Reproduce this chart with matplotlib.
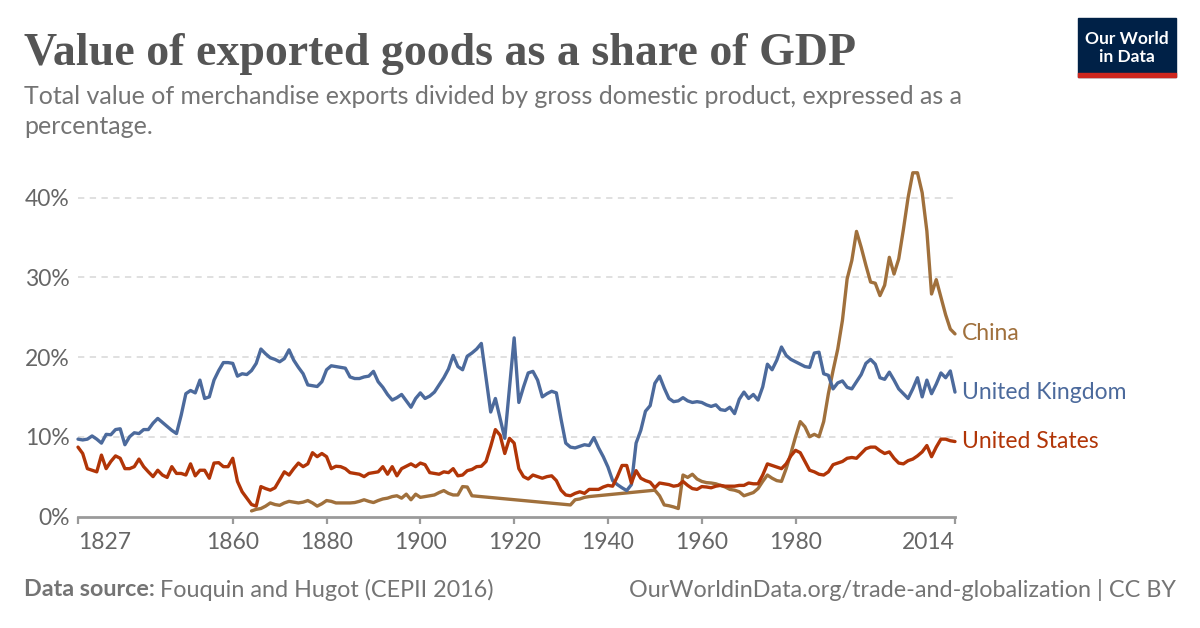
#!/usr/bin/env python3
"""Value of exported goods as a share of GDP (OWID-style line chart)."""
import matplotlib
matplotlib.use('Agg')
import matplotlib.pyplot as plt
from matplotlib.patches import Rectangle

# ---- data (% of GDP) ----
uk_years = list(range(1827, 2015))
uk_share = [
    9.7, 9.6, 9.7, 10.1, 9.7, 9.2, 10.3, 10.25, 10.9, 11.0,
    9.0, 10.0, 10.5, 10.4, 10.9, 10.9, 11.7, 12.3, 11.8, 11.3,
    10.8, 10.4, 12.7, 15.4, 15.8, 15.5, 17.1, 14.8, 15.0, 17.1,
    18.3, 19.3, 19.3, 19.2, 17.6, 17.9, 17.8, 18.3, 19.2, 21.0,
    20.4, 19.9, 19.7, 19.4, 19.8, 20.9, 19.6, 18.7, 17.9, 16.5,
    16.4, 16.3, 16.9, 18.4, 18.9, 18.8, 18.7, 18.6, 17.5, 17.3,
    17.3, 17.5, 17.6, 18.2, 16.9, 16.2, 15.3, 14.6, 14.9, 15.3,
    14.5, 13.7, 14.8, 15.5, 14.8, 15.1, 15.6, 16.5, 17.4, 18.5,
    20.2, 18.8, 18.4, 20.1, 20.5, 21.0, 21.7, 17.4, 13.1, 14.8,
    12.3, 9.8, 16.1, 22.4, 14.3, 16.25, 18.0, 18.2, 17.1, 15.0,
    15.4, 15.7, 15.5, 12.2, 9.2, 8.7, 8.6, 8.8, 9.0, 8.9,
    9.9, 8.6, 7.5, 6.2, 4.5, 4.0, 3.6, 3.25, 4.0, 9.2,
    10.8, 13.2, 13.9, 16.7, 17.6, 16.1, 14.8, 14.4, 14.5, 14.9,
    14.5, 14.3, 14.4, 14.3, 14.0, 13.8, 14.0, 13.4, 13.3, 13.7,
    12.9, 14.7, 15.6, 14.8, 15.3, 14.6, 16.25, 19.1, 18.4, 19.6,
    21.25, 20.2, 19.7, 19.4, 19.1, 18.8, 18.7, 20.5, 20.6, 17.9,
    17.7, 16.0, 16.75, 17.0, 16.2, 16.0, 16.9, 17.8, 19.2, 19.7,
    19.1, 17.4, 17.2, 18.1, 17.1, 16.0, 15.4, 14.8, 16.0, 17.4,
    15.0, 17.1, 15.4, 16.6, 18.0, 17.4, 18.25, 15.6,
]

us_years = list(range(1827, 2015))
us_share = [
    8.7, 7.9, 6.0, 5.8, 5.6, 7.7, 6.0, 6.9, 7.6, 7.3,
    6.0, 6.0, 6.25, 7.2, 6.25, 5.6, 5.0, 5.8, 5.2, 4.9,
    6.25, 5.4, 5.4, 5.2, 6.6, 5.1, 5.8, 5.8, 4.8, 6.7,
    6.75, 6.25, 6.25, 7.3, 4.4, 3.1, 2.3, 1.5, 1.3, 3.75,
    3.5, 3.3, 3.6, 4.6, 5.6, 5.2, 6.0, 6.7, 6.25, 6.6,
    8.0, 7.5, 7.9, 7.5, 6.0, 6.3, 6.25, 6.0, 5.5, 5.4,
    5.3, 5.0, 5.4, 5.5, 5.6, 6.25, 5.3, 6.25, 5.1, 6.0,
    6.3, 6.6, 6.25, 6.7, 6.5, 5.5, 5.4, 5.3, 5.6, 5.5,
    6.0, 5.1, 5.2, 5.75, 5.9, 6.25, 6.3, 6.9, 8.8, 10.9,
    10.2, 7.9, 9.8, 9.2, 6.0, 5.0, 4.7, 5.2, 5.0, 4.8,
    5.0, 5.1, 4.5, 3.3, 2.7, 2.6, 2.9, 3.1, 2.9, 3.4,
    3.4, 3.4, 3.7, 3.9, 3.8, 5.0, 6.4, 6.4, 4.2, 5.75,
    4.8, 4.5, 4.3, 3.6, 4.2, 4.1, 4.0, 3.8, 3.9, 4.4,
    3.9, 3.5, 3.4, 3.75, 3.7, 3.6, 3.8, 3.9, 3.8, 3.8,
    3.8, 3.9, 3.9, 4.2, 4.1, 4.1, 5.2, 6.6, 6.4, 6.2,
    6.0, 6.6, 7.6, 8.3, 8.0, 6.9, 5.8, 5.6, 5.3, 5.2,
    5.6, 6.5, 6.7, 6.9, 7.3, 7.4, 7.3, 7.9, 8.5, 8.7,
    8.7, 8.25, 7.9, 8.1, 7.3, 6.7, 6.6, 7.0, 7.2, 7.6,
    8.1, 8.9, 7.5, 8.7, 9.7, 9.7, 9.5, 9.4,
]

# China has gaps (1912-1931, 1937-1949); the line is drawn straight across them
china_years = list(range(1864, 1912)) + list(range(1932, 1937)) + list(range(1950, 2015))
china_share = [
    0.7, 0.9, 1.0, 1.3, 1.7, 1.5, 1.4, 1.7, 1.9, 1.8,
    1.7, 1.8, 2.0, 1.7, 1.3, 1.6, 2.0, 1.9, 1.7, 1.7,
    1.7, 1.7, 1.75, 1.9, 2.1, 1.9, 1.75, 2.0, 2.2, 2.3,
    2.5, 2.6, 2.3, 2.8, 2.1, 2.8, 2.4, 2.5, 2.6, 2.7,
    3.0, 3.25, 2.9, 2.7, 2.7, 3.75, 3.7, 2.6,
    1.45, 2.1, 2.2, 2.4, 2.5,
    3.3, 2.6, 1.45, 1.35, 1.2, 1.0, 5.2, 4.9, 5.3, 4.7,
    4.4, 4.25, 4.2, 4.1, 3.9, 3.7, 3.4, 3.3, 3.1, 2.6,
    2.8, 3.0, 3.5, 4.4, 5.2, 4.8, 4.5, 4.4, 6.0, 7.9,
    10.0, 11.9, 11.25, 10.0, 10.3, 10.0, 11.9, 15.4, 18.3, 21.0,
    24.6, 29.8, 32.1, 35.75, 33.75, 31.5, 29.4, 29.25, 27.7, 29.0,
    32.5, 30.4, 32.3, 36.0, 40.0, 43.1, 43.1, 40.6, 35.8, 27.9,
    29.7, 27.5, 25.3, 23.5, 22.9,
]

x_ticks = [1827, 1860, 1880, 1900, 1920, 1940, 1960, 1980, 2014]
y_ticks = [0, 10, 20, 30, 40]

COL = {
    'China': '#a0703c',
    'United Kingdom': '#4c6a9c',
    'United States': '#b13507',
    'grid': '#dddddd',
    'axis': '#9a9a9a',
    'tick': '#666666',
    'title': '#555555',
    'sub': '#747474',
    'navy': '#002147',
    'red': '#ce261e',
}

W, H = 1200, 628


def fx(x):
    return x / W


def fy(y):
    return 1 - y / H


def main():
    plt.rcParams['font.family'] = ['Lato', 'DejaVu Sans']
    fig = plt.figure(figsize=(W / 100, H / 100), dpi=100, facecolor='white')

    # plot area: 0% at y=516.5 px, 7.975 px per percentage point
    y0, ppu, ytop = 516.5, 7.975, 44
    ax = fig.add_axes([fx(78), fy(y0), 877 / W, ytop * ppu / H])
    ax.set_xlim(1827, 2014)
    ax.set_ylim(0, ytop)

    for sp in ['top', 'right', 'left']:
        ax.spines[sp].set_visible(False)
    ax.spines['bottom'].set_color(COL['axis'])
    ax.spines['bottom'].set_linewidth(2.0)
    ax.spines['bottom'].set_zorder(1)

    ax.set_yticks(y_ticks, [f'{v}%' for v in y_ticks])
    ax.yaxis.grid(True, color=COL['grid'], linestyle=(0, (3.5, 3)), linewidth=1.3)
    ax.set_axisbelow(True)
    ax.tick_params(axis='y', length=0, pad=6, labelsize=16.5, labelcolor=COL['tick'])
    ax.get_ygridlines()[0].set_visible(False)

    ax.set_xticks(x_ticks, [str(t) for t in x_ticks])
    ax.tick_params(axis='x', length=5, width=1.6, color=COL['axis'], pad=6,
                   labelsize=16.5, labelcolor=COL['tick'])
    labels = ax.get_xticklabels()
    labels[0].set_ha('left')
    labels[-1].set_ha('right')

    series = [
        ('China', china_years, china_share),
        ('United Kingdom', uk_years, uk_share),
        ('United States', us_years, us_share),
    ]
    for name, yrs, vals in series:
        ax.plot(yrs, vals, color=COL[name], lw=2.4, solid_joinstyle='round',
                solid_capstyle='round', clip_on=False, zorder=3)
        ax.annotate(name, xy=(yrs[-1], vals[-1]), xytext=(5, 0),
                    textcoords='offset points', va='center', ha='left',
                    fontsize=16.5, color=COL[name], annotation_clip=False)

    # header
    fig.text(fx(24), fy(65), 'Value of exported goods as a share of GDP',
             family=['Liberation Serif', 'DejaVu Serif'], weight='bold',
             fontsize=33, color=COL['title'], va='baseline', ha='left')
    fig.text(fx(24), fy(104),
             'Total value of merchandise exports divided by gross domestic product, expressed as a',
             fontsize=18, color=COL['sub'], va='baseline', ha='left')
    fig.text(fx(24), fy(134), 'percentage.', fontsize=18, color=COL['sub'],
             va='baseline', ha='left')

    # logo
    fig.patches.append(Rectangle((fx(1078), fy(77)), 98 / W, 59 / H,
                                 transform=fig.transFigure, color=COL['navy'], zorder=1))
    fig.patches.append(Rectangle((fx(1078), fy(77)), 98 / W, 4 / H,
                                 transform=fig.transFigure, color=COL['red'], zorder=2))
    fig.text(fx(1127), fy(39), 'Our World', fontsize=12.5, color='white',
             ha='center', va='center', weight='bold')
    fig.text(fx(1127), fy(57), 'in Data', fontsize=12.5, color='white',
             ha='center', va='center', weight='bold')

    # footer
    renderer = fig.canvas.get_renderer()
    src = fig.text(fx(24), fy(590), 'Data source:', fontsize=16.8, weight='bold',
                   color='#747474', va='center', ha='left')
    bb = src.get_window_extent(renderer)
    fig.text(bb.x1 / W + 5 / W, fy(590), 'Fouquin and Hugot (CEPII 2016)',
             fontsize=16.8, color='#747474', va='center', ha='left')
    fig.text(fx(1176), fy(590), 'OurWorldinData.org/trade-and-globalization | CC BY',
             fontsize=16.8, color='#747474', va='center', ha='right')

    fig.savefig('out.png', dpi=100, facecolor='white')
    plt.close(fig)


if __name__ == '__main__':
    main()
